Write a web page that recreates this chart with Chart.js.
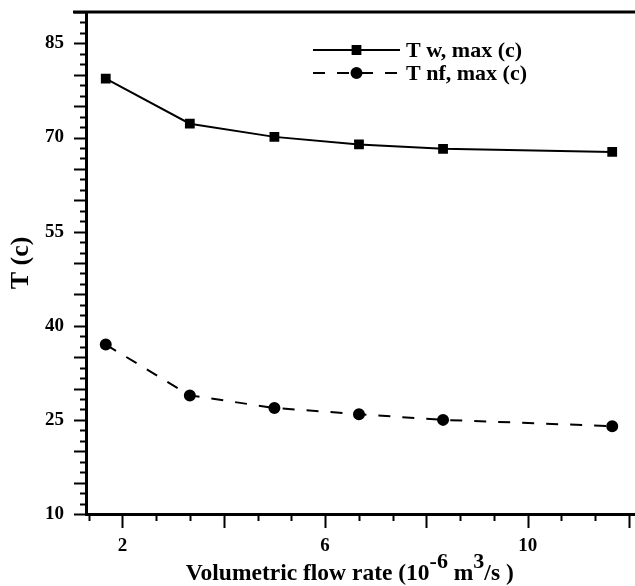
<!DOCTYPE html>
<html>
<head>
<meta charset="utf-8">
<script src="https://cdn.jsdelivr.net/npm/chart.js@4.4.0/dist/chart.umd.min.js"></script>
<style>
  html, body { margin: 0; padding: 0; background: #fff; overflow: hidden; }
  #wrap { width: 635px; height: 586px; overflow: hidden; }
  canvas { display: block; }
</style>
</head>
<body>
<div id="wrap"><canvas id="chart" width="643" height="586"></canvas></div>
<script>
// volumetric flow rate, 10^-6 m3/s
const flowRate = [1.67, 3.33, 5.0, 6.67, 8.33, 11.67];
const tWallMax = [79.4, 72.2, 70.1, 68.9, 68.2, 67.7];
const tNfMax = [37.0, 28.9, 26.9, 25.9, 25.0, 24.0];
const seriesNames = ['T w, max (c)', 'T nf, max (c)'];
const xTickLabels = [2, 6, 10];
const yTickLabels = [10, 25, 40, 55, 70, 85];

const SERIF = '"Liberation Serif", "Times New Roman", serif';

// minor / major tick marks drawn outside the axes
const tickMarks = {
    id: 'tickMarks',
    afterDraw(chart) {
        const ctx = chart.ctx;
        const x = chart.scales.x, y = chart.scales.y;
        const area = chart.chartArea;
        ctx.save();
        ctx.strokeStyle = '#000';
        ctx.lineWidth = 2;
        ctx.beginPath();
        for (let k = Math.ceil(x.min / (2 / 3)); k * 2 / 3 <= x.max + 1e-6; k++) {
            const v = k * 2 / 3;
            const major = k % 3 === 0;
            const px = Math.round(x.getPixelForValue(v)) + 0.5;
            ctx.moveTo(px, area.bottom);
            ctx.lineTo(px, area.bottom + (major ? 14 : 7));
        }
        for (let k = Math.ceil(y.min / (5 / 3)); k * 5 / 3 <= y.max + 1e-6; k++) {
            const v = k * 5 / 3;
            const major = k % 3 === 0;
            const py = Math.round(y.getPixelForValue(v)) + 0.5;
            ctx.moveTo(area.left, py);
            ctx.lineTo(area.left - (major ? 12 : 6), py);
        }
        ctx.stroke();
        // top frame line
        ctx.lineWidth = 3;
        ctx.beginPath();
        ctx.moveTo(area.left - 13, area.top);
        ctx.lineTo(area.right, area.top);
        ctx.stroke();

        // x axis title with superscripts
        const big = 'bold 23.5px ' + SERIF;
        const sup = 'bold 22px ' + SERIF;
        const parts = [
            ['Volumetric flow rate (10', big, 0],
            ['-6', sup, -12],
            [' m', big, 0],
            ['3', sup, -12],
            ['/s )', big, 0]
        ];
        let total = 0;
        parts.forEach(p => { ctx.font = p[1]; total += ctx.measureText(p[0]).width; });
        let cx = (area.left + area.right) / 2 - 11 - total / 2;
        const base = area.bottom + 66;
        ctx.fillStyle = '#000';
        ctx.textBaseline = 'alphabetic';
        ctx.textAlign = 'left';
        parts.forEach(p => {
            ctx.font = p[1];
            ctx.fillText(p[0], cx, base + p[2]);
            cx += ctx.measureText(p[0]).width;
        });
        ctx.restore();
    }
};

// legend: line with marker in the middle, then the name
const lineLegend = {
    id: 'lineLegend',
    afterDraw(chart) {
        const ctx = chart.ctx;
        const area = chart.chartArea;
        const x0 = area.left + 227, x1 = area.left + 314;
        chart.data.datasets.forEach((ds, i) => {
            const yy = area.top + 38 + i * 23;
            ctx.save();
            ctx.strokeStyle = ds.borderColor;
            ctx.lineWidth = ds.borderWidth;
            ctx.setLineDash(ds.borderDash || []);
            ctx.beginPath();
            ctx.moveTo(x0, yy);
            ctx.lineTo(x1, yy);
            ctx.stroke();
            ctx.setLineDash([]);
            Chart.helpers.drawPoint(ctx, {
                pointStyle: ds.pointStyle,
                radius: ds.pointRadius,
                borderWidth: 1,
                rotation: 0
            }, (x0 + x1) / 2, yy);
            ctx.fillStyle = '#000';
            ctx.fill();
            ctx.font = 'bold 22px ' + SERIF;
            ctx.textBaseline = 'middle';
            ctx.textAlign = 'left';
            ctx.fillText(ds.label, x1 + 6, yy + 1);
            ctx.restore();
        });
    }
};

const noPad = (s) => {
    s.paddingTop = 0; s.paddingBottom = 0; s.paddingLeft = 0; s.paddingRight = 0;
};

new Chart(document.getElementById('chart'), {
    type: 'line',
    data: {
        datasets: [{
            label: seriesNames[0],
            data: flowRate.map((v, i) => ({ x: v, y: tWallMax[i] })),
            borderColor: '#000',
            backgroundColor: '#000',
            borderWidth: 2,
            pointStyle: 'rect',
            pointRadius: 5.5,
            tension: 0
        }, {
            label: seriesNames[1],
            data: flowRate.map((v, i) => ({ x: v, y: tNfMax[i] })),
            borderColor: '#000',
            backgroundColor: '#000',
            borderWidth: 2,
            borderDash: [12, 12],
            pointStyle: 'circle',
            pointRadius: 5,
            tension: 0
        }]
    },
    options: {
        responsive: false,
        animation: false,
        layout: { padding: { top: 12, right: 0, left: 0, bottom: 0 } },
        plugins: {
            legend: { display: false },
            tooltip: { enabled: false }
        },
        scales: {
            x: {
                type: 'linear',
                min: 1.28,
                max: 12.13,
                afterBuildTicks: (s) => { s.ticks = xTickLabels.map(v => ({ value: v })); },
                afterFit: (s) => { s.height = 72; noPad(s); },
                grid: { display: true, drawOnChartArea: false, drawTicks: false },
                border: { display: true, width: 3, color: '#000' },
                ticks: {
                    color: '#000',
                    padding: 21,
                    maxRotation: 0,
                    font: { family: SERIF, size: 19, weight: 'bold' }
                }
            },
            y: {
                min: 10,
                max: 90,
                afterBuildTicks: (s) => { s.ticks = yTickLabels.map(v => ({ value: v })); },
                afterFit: (s) => { s.width = 86; noPad(s); },
                grid: { display: true, drawOnChartArea: false, drawTicks: false },
                border: { display: true, width: 3, color: '#000' },
                ticks: {
                    color: '#000',
                    padding: 22,
                    font: { family: SERIF, size: 19, weight: 'bold' }
                },
                title: {
                    display: true,
                    text: 'T (c)',
                    color: '#000',
                    padding: { top: 6, bottom: 0 },
                    font: { family: SERIF, size: 26, weight: 'bold' }
                }
            }
        }
    },
    plugins: [tickMarks, lineLegend]
});
</script>
</body>
</html>
